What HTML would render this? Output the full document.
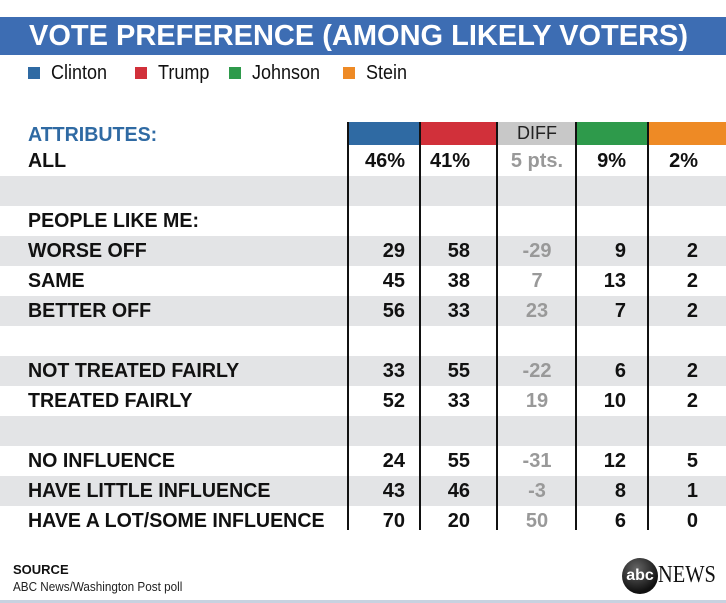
<!DOCTYPE html>
<html><head><meta charset="utf-8"><style>
body{margin:0;width:726px;height:603px;background:#fff;font-family:"Liberation Sans",sans-serif;position:relative;overflow:hidden}
.abs{position:absolute}
.t{white-space:nowrap;transform-origin:left center;transform:scaleX(.86)}
.row{position:absolute;left:0;width:726px;height:30px}
.lbl{position:absolute;left:28px;top:0;line-height:30px;font-size:20px;font-weight:bold;color:#111;white-space:nowrap;transform-origin:left center;transform:scaleX(.98)}
.num{position:absolute;top:0;line-height:30px;font-size:20px;font-weight:bold;color:#111;text-align:right;width:60px}
.vl{position:absolute;top:122px;height:408px;width:2px;background:#111}
</style></head><body>
<div class="abs" style="left:0;top:17px;width:726px;height:38px;background:#3d6db3"></div>
<div class="abs t" style="left:29px;top:17px;line-height:38px;font-size:29px;font-weight:bold;color:#fff;transform:scaleX(1.0)">VOTE PREFERENCE (AMONG LIKELY VOTERS)</div>
<div id="legend"></div>
<div class="abs t" style="left:28px;top:122px;font-size:20px;font-weight:bold;color:#2f6aa3;line-height:26px;transform:scaleX(.98)">ATTRIBUTES:</div>
<div id="tbl"></div>
<div class="abs" style="left:13px;top:562px;font-size:13px;font-weight:bold;color:#111">SOURCE</div>
<div class="abs" style="left:13px;top:579px;font-size:13px;color:#222;transform:scaleX(.9);transform-origin:left">ABC News/Washington Post poll</div>
<div class="abs" style="left:622px;top:558px;width:36px;height:36px;border-radius:50%;background:radial-gradient(circle at 40% 30%,#666,#111 70%);color:#fff;font-weight:bold;font-size:16px;line-height:36px;text-align:center">abc</div>
<div class="abs" style="left:658px;top:562px;font-family:'Liberation Serif',serif;font-size:24px;color:#111;transform:scaleX(.85);transform-origin:left">NEWS</div>
<div class="abs" style="left:0;top:600px;width:726px;height:3px;background:#c8d2e0"></div>
<script>
const candidates=["Clinton","Trump","Johnson","Stein"];
const colors=["#2f6aa3","#d1303a","#2e9a4b","#ee8a25"];
const rowLabels=["ALL","","PEOPLE LIKE ME:","WORSE OFF","SAME","BETTER OFF","","NOT TREATED FAIRLY","TREATED FAIRLY","","NO INFLUENCE","HAVE LITTLE INFLUENCE","HAVE A LOT/SOME INFLUENCE"];
const clinton=["46%","","","29","45","56","","33","52","","24","43","70"];
const trump=["41%","","","58","38","33","","55","33","","55","46","20"];
const diff=["5 pts.","","","-29","7","23","","-22","19","","-31","-3","50"];
const johnson=["9%","","","9","13","7","","6","10","","12","8","6"];
const stein=["2%","","","2","2","2","","2","2","","5","1","0"];

const lg=document.getElementById('legend');
const lx=[28,135,229,343];
candidates.forEach((c,i)=>{
  const sq=document.createElement('div');sq.className='abs';
  
  
  sq.style.cssText=`left:${lx[i]}px;top:67px;width:12px;height:12px;background:${colors[i]}`;
  lg.appendChild(sq);
  const t=document.createElement('div');t.className='abs t';
  
  
  t.style.cssText=`left:${lx[i]+23}px;top:61px;font-size:20px;color:#111;line-height:24px;transform:scaleX(.9)`;
  t.textContent=c;lg.appendChild(t);
});
const tb=document.getElementById('tbl');
const hdr=[[349,71,colors[0]],[421,76,colors[1]],[498,78,"#c8c8c8"],[577,71,colors[2]],[649,77,colors[3]]];
hdr.forEach((h,i)=>{
  const d=document.createElement('div');d.className='abs';
  
  
  d.style.cssText=`left:${h[0]}px;top:122px;width:${h[1]}px;height:23px;background:${h[2]}`;
  if(i===2){d.textContent='DIFF';d.style.cssText+=';font-size:18px;line-height:23px;text-align:center;color:#222';}
  tb.appendChild(d);
});
const rowTop=146;
rowLabels.forEach((l,r)=>{
  const row=document.createElement('div');row.className='row';
  
  
  row.style.top=(rowTop+r*30)+'px';
  if(r%2===1) row.style.background='#e3e4e6';
  const lb=document.createElement('div');lb.className='lbl';lb.textContent=l;
  
  
  row.appendChild(lb);
  const vals=[clinton[r],trump[r],diff[r],johnson[r],stein[r]];
  const rights=[405,470,0,626,698];
  vals.forEach((v,c)=>{
    const n=document.createElement('div');n.className='num';
    
    
    n.textContent=v;
    if(c===2){n.style.left='498px';n.style.width='78px';n.style.textAlign='center';n.style.color='#999';}
    else n.style.left=(rights[c]-60)+'px';
    row.appendChild(n);
  });
  tb.appendChild(row);
});
[347,419,496,575,647].forEach((x,i)=>{
  const v=document.createElement('div');v.className='vl';
  
  
  v.style.left=x+'px';tb.appendChild(v);
});
</script>
</body></html>
